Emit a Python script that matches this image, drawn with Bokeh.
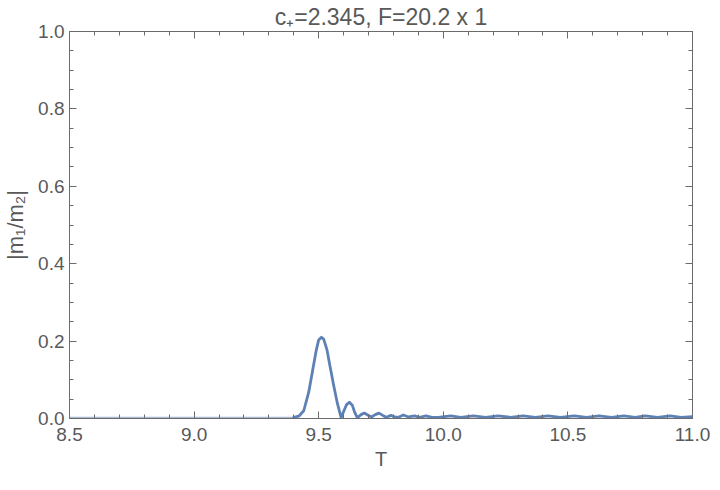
from bokeh.plotting import figure
from bokeh.models import (FixedTicker, PrintfTickFormatter, LinearAxis, CustomJSTickFormatter,
                          Range1d)
from bokeh.embed import file_html
from bokeh.resources import INLINE

# ---- data ----
t_flat = [8.5, 9.40]
y_flat = [0.003, 0.003]

t_main = [9.40, 9.42, 9.44, 9.46, 9.475, 9.49, 9.50, 9.511, 9.52, 9.533, 9.545, 9.56, 9.575, 9.59,
          9.60, 9.612, 9.623, 9.635, 9.645, 9.655, 9.67, 9.683, 9.70, 9.712, 9.727, 9.742, 9.757,
          9.772, 9.79, 9.805, 9.82, 9.84, 9.86, 9.885, 9.905, 9.93, 9.955, 9.98, 10.03, 10.07,
          10.12, 10.17, 10.22, 10.27, 10.32, 10.37, 10.42, 10.47, 10.525, 10.575, 10.625, 10.675,
          10.725, 10.77, 10.81, 10.86, 10.91, 10.955, 11.0]
y_main = [0.003, 0.006, 0.020, 0.068, 0.122, 0.176, 0.203, 0.210, 0.205, 0.178, 0.136, 0.086, 0.039, 0.002,
          0.018, 0.036, 0.042, 0.034, 0.015, 0.002, 0.010, 0.014, 0.008, 0.004, 0.010, 0.014, 0.008,
          0.003, 0.008, 0.004, 0.003, 0.009, 0.004, 0.007, 0.003, 0.007, 0.003, 0.003, 0.007, 0.003,
          0.007, 0.003, 0.007, 0.003, 0.007, 0.003, 0.007, 0.003, 0.007, 0.003, 0.007, 0.003,
          0.007, 0.003, 0.007, 0.003, 0.007, 0.003, 0.005]

x_major = [8.5, 9.0, 9.5, 10.0, 10.5, 11.0]
x_minor = [8.6, 8.7, 8.8, 8.9, 9.1, 9.2, 9.3, 9.4, 9.6, 9.7, 9.8, 9.9,
           10.1, 10.2, 10.3, 10.4, 10.6, 10.7, 10.8, 10.9]
y_major = [0.0, 0.2, 0.4, 0.6, 0.8, 1.0]
y_minor = [0.05, 0.1, 0.15, 0.25, 0.3, 0.35, 0.45, 0.5, 0.55, 0.65, 0.7, 0.75, 0.85, 0.9, 0.95]

title_text = "c\u208a=2.345, F=20.2 x 1"
x_label = "T"
y_label = "|m\u2081/m\u2082|"

LINE = "#5E81B5"
FRAME = "#6b6b6b"
TXT = "#595959"
FONT = "Liberation Sans"

p = figure(width=712, height=474, output_backend="svg", toolbar_location=None,
           x_range=Range1d(8.5, 11.0), y_range=Range1d(0.0, 1.0),
           min_border_left=64, min_border_right=20, min_border_top=31, min_border_bottom=56,
           x_axis_location=None, y_axis_location=None)
p.grid.visible = False
p.outline_line_color = FRAME
p.outline_line_width = 1
p.background_fill_color = "white"
p.border_fill_color = "white"

p.title.text = title_text
p.title.text_font = FONT
p.title.text_font_size = "23px"
p.title.text_font_style = "normal"
p.title.text_color = TXT
p.title.align = "center"
p.title.offset = 0
p.title.standoff = 3


def style_axis(ax, major, minor, labels=True):
    ax.ticker = FixedTicker(ticks=major, minor_ticks=minor)
    ax.axis_line_color = FRAME
    ax.major_tick_line_color = FRAME
    ax.minor_tick_line_color = FRAME
    ax.major_tick_in = 7
    ax.major_tick_out = 0
    ax.minor_tick_in = 4
    ax.minor_tick_out = 0
    ax.major_label_text_font = FONT
    ax.major_label_text_font_size = "19px"
    ax.major_label_text_color = TXT
    ax.axis_label_text_font = FONT
    ax.axis_label_text_font_size = "20px"
    ax.axis_label_text_font_style = "normal"
    ax.axis_label_text_color = TXT
    if labels:
        ax.formatter = PrintfTickFormatter(format="%.1f")
    else:
        ax.formatter = CustomJSTickFormatter(code="return ''")
        ax.major_label_standoff = 0
        ax.major_label_text_font_size = "1px"


xb = LinearAxis(axis_label=x_label)
style_axis(xb, x_major, x_minor)
xb.major_label_standoff = 9
xb.axis_label_standoff = 4
p.add_layout(xb, "below")

yl = LinearAxis(axis_label=y_label)
style_axis(yl, y_major, y_minor)
yl.axis_label_text_font_size = "22px"
yl.major_label_standoff = 5
yl.axis_label_standoff = 7
p.add_layout(yl, "left")

xt = LinearAxis()
style_axis(xt, x_major, x_minor, labels=False)
p.add_layout(xt, "above")

yr = LinearAxis()
style_axis(yr, y_major, y_minor, labels=False)
p.add_layout(yr, "right")

p.line(t_flat, y_flat, line_color=LINE, line_width=1.2, line_alpha=0.55)
p.line(t_main, y_main, line_color=LINE, line_width=2.8, line_join="round", line_cap="round")

open("out.html", "w").write(file_html(p, INLINE))
